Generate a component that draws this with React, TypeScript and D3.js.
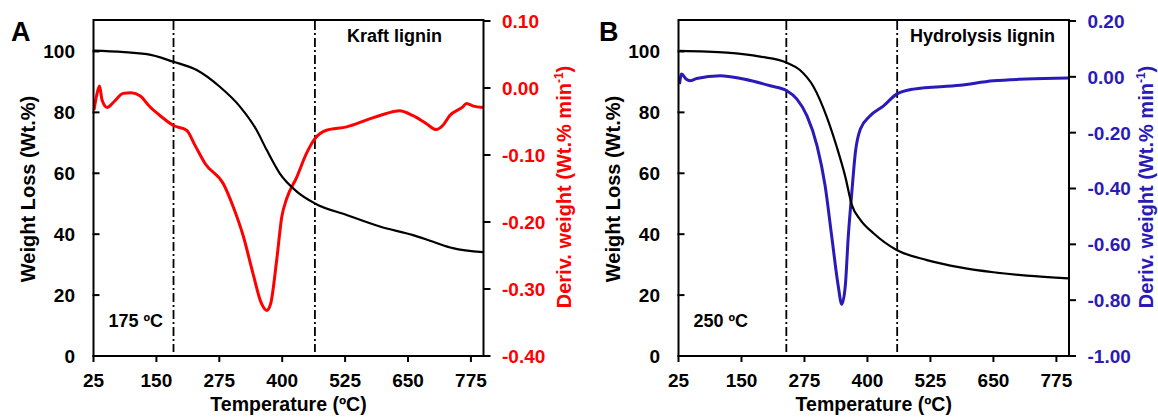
import React from "react";
import * as d3 from "d3";

// ---------- Data ----------
const xTicks = [25, 150, 275, 400, 525, 650, 775];
const leftTicks = [0, 20, 40, 60, 80, 100];
const rightTicksA = [0.1, 0.0, -0.1, -0.2, -0.3, -0.4];
const rightTicksB = [0.2, 0.0, -0.2, -0.4, -0.6, -0.8, -1.0];

// Panel A – Kraft lignin, weight loss (TGA)
const tgaTempA = [25, 131, 184, 230, 276, 316, 349, 369, 395, 429, 465, 528, 594, 660, 700, 739, 799];
const tgaValA = [100.3, 99.1, 96.6, 93.9, 88.4, 81.9, 74.2, 67.7, 60.0, 54.0, 50.1, 46.3, 42.5, 39.7, 37.5, 35.4, 34.1];

// Panel A – Kraft lignin, derivative weight (DTG)
const dtgTempA = [26, 31, 37, 42, 52, 65, 84, 100, 118, 137, 157, 184, 210, 227, 247, 283, 303, 323, 342, 359, 369, 377, 389, 399, 409, 429, 448, 465, 488, 528, 567, 607, 633, 659, 686, 706, 719, 733, 759, 766, 780, 799];
const dtgValA = [-0.033, -0.012, 0.003, -0.018, -0.029, -0.021, -0.008, -0.007, -0.012, -0.028, -0.041, -0.056, -0.063, -0.086, -0.113, -0.143, -0.178, -0.222, -0.277, -0.322, -0.332, -0.322, -0.257, -0.193, -0.165, -0.133, -0.098, -0.0755, -0.063, -0.058, -0.048, -0.038, -0.034, -0.041, -0.053, -0.062, -0.056, -0.041, -0.028, -0.023, -0.027, -0.029];

// Panel B – Hydrolysis lignin, weight loss (TGA)
const tgaTempB = [27, 121, 187, 240, 266, 293, 319, 339, 356, 369, 386, 412, 458, 518, 584, 650, 716, 799];
const tgaValB = [100.2, 99.6, 98.3, 96.3, 93.9, 88.4, 78.6, 68.7, 58.9, 49.6, 44.7, 40.3, 34.8, 31.5, 29.1, 27.5, 26.4, 25.5];

// Panel B – Hydrolysis lignin, derivative weight (DTG)
const dtgTempB = [27, 31, 40, 48, 61, 108, 154, 207, 240, 260, 280, 300, 316, 329, 342, 349, 356, 362, 369, 376, 386, 405, 432, 458, 491, 584, 650, 716, 799];
const dtgValB = [-0.026, 0.01, -0.008, -0.014, -0.006, 0.004, -0.008, -0.032, -0.05, -0.08, -0.14, -0.247, -0.39, -0.57, -0.749, -0.815, -0.749, -0.57, -0.414, -0.271, -0.187, -0.14, -0.104, -0.062, -0.044, -0.03, -0.014, -0.008, -0.004];

// Vertical dash-dot markers (°C)
const markersA = [184, 465];
const markersB = [239, 459];

const FONT = "Arial, 'Liberation Sans', sans-serif";

type PanelProps = {
  x0: number;
  x1: number;
  letter: string;
  letterX: number;
  title: string;
  titleStart: number;
  tempLabel: string;
  tgaT: number[];
  tgaV: number[];
  dtgT: number[];
  dtgV: number[];
  rightDomain: [number, number];
  rightTicks: number[];
  markers: number[];
  color: string;
  titleX: number;
};

function fmt(v: number) {
  return d3.format(".2f")(v).replace("\u2212", "-");
}

function Panel(p: PanelProps) {
  const top = 21;
  const bottom = 356;
  const x = d3.scaleLinear().domain([25, 800]).range([p.x0, p.x1]);
  const yL = d3.scaleLinear().domain([0, 110]).range([bottom, top]);
  const yR = d3.scaleLinear().domain(p.rightDomain).range([bottom, top]);

  const tgaLine = d3
    .line<number>()
    .x((_, i) => x(p.tgaT[i]))
    .y((v) => yL(v))
    .curve(d3.curveMonotoneX);
  const dtgLine = d3
    .line<number>()
    .x((_, i) => x(p.dtgT[i]))
    .y((v) => yR(v))
    .curve(d3.curveMonotoneX);

  const cx = (p.x0 + p.x1) / 2;
  const cy = 189;

  return (
    <g fontFamily={FONT} fontWeight="bold">
      {/* markers */}
      {p.markers.map((m, i) => (
        <line
          key={"m" + i}
          x1={x(m)}
          x2={x(m)}
          y1={top}
          y2={bottom - 4}
          stroke="#000"
          strokeWidth={1.8}
          strokeDasharray="9,3,2,3"
        />
      ))}
      {/* curves */}
      <path d={dtgLine(p.dtgV) || ""} fill="none" stroke={p.color} strokeWidth={3} strokeLinejoin="round" />
      <path d={tgaLine(p.tgaV) || ""} fill="none" stroke="#000" strokeWidth={2.2} strokeLinejoin="round" />

      {/* frame */}
      <line x1={p.x0} x2={p.x1} y1={top - 1} y2={top - 1} stroke="#000" strokeWidth={2} />
      <line x1={p.x0} x2={p.x1} y1={bottom} y2={bottom} stroke="#000" strokeWidth={2} />
      <line x1={p.x0} x2={p.x0} y1={top - 2} y2={bottom + 1} stroke="#000" strokeWidth={2} />
      <line x1={p.x1} x2={p.x1} y1={top - 2} y2={bottom + 1} stroke="#000" strokeWidth={2} />

      {/* x ticks */}
      {xTicks.map((t) => (
        <g key={"x" + t}>
          <line x1={x(t)} x2={x(t)} y1={bottom} y2={bottom + 6} stroke="#000" strokeWidth={2} />
          <text x={x(t)} y={387} textAnchor="middle" fontSize={19} fill="#000">
            {t}
          </text>
        </g>
      ))}
      {/* left ticks */}
      {leftTicks.map((t) => (
        <g key={"l" + t}>
          <line x1={p.x0 - 1} x2={p.x0 + 6} y1={yL(t)} y2={yL(t)} stroke="#000" strokeWidth={2} />
          <text x={p.x0 - 18.5} y={yL(t)} dy="0.36em" textAnchor="end" fontSize={19} fill="#000">
            {t}
          </text>
        </g>
      ))}
      {/* right ticks */}
      {p.rightTicks.map((t) => (
        <g key={"r" + t}>
          <line x1={p.x1} x2={p.x1 + 7} y1={yR(t)} y2={yR(t)} stroke="#000" strokeWidth={2} />
          <text x={p.x1 + 18.5} y={yR(t)} dy="0.36em" textAnchor="start" fontSize={19} fill={p.color}>
            {fmt(t)}
          </text>
        </g>
      ))}

      {/* axis titles */}
      <text x={cx} y={411} textAnchor="middle" fontSize={19.5} fill="#000">
        Temperature (ºC)
      </text>
      <text transform={`translate(${p.x0 - 59},${cy}) rotate(-90)`} textAnchor="middle" fontSize={20} fill="#000">
        Weight Loss (Wt.%)
      </text>
      <text transform={`translate(${p.titleX},${cy - 2}) rotate(-90)`} textAnchor="middle" fontSize={20} fill={p.color}>
        Deriv. weight (Wt.% min
        <tspan fontSize={12} dy={-8}>
          -1
        </tspan>
        <tspan dy={8}>)</tspan>
      </text>

      {/* annotations */}
      <text x={p.letterX} y={41} fontSize={27} fill="#000">
        {p.letter}
      </text>
      <text x={p.titleStart} y={42} fontSize={18} fill="#000">
        {p.title}
      </text>
      <text x={p.x0 + 15} y={327} fontSize={18} fill="#000">
        {p.tempLabel}
      </text>
    </g>
  );
}

export default function App() {
  return (
    <svg
      width={1158}
      height={418}
      viewBox="0 0 1158 418"
      style={{ position: "absolute", left: 0, top: 0, background: "#fff" }}
    >
      <rect width={1158} height={418} fill="#fff" />
      <Panel
        x0={93.5}
        x1={483.5}
        letter="A"
        letterX={11}
        title="Kraft lignin"
        titleStart={347}
        tempLabel="175 ºC"
        tgaT={tgaTempA}
        tgaV={tgaValA}
        dtgT={dtgTempA}
        dtgV={dtgValA}
        rightDomain={[-0.4, 0.1]}
        rightTicks={rightTicksA}
        markers={markersA}
        color="#ff0000"
        titleX={571}
      />
      <Panel
        x0={678.5}
        x1={1069}
        letter="B"
        letterX={599}
        title="Hydrolysis lignin"
        titleStart={910}
        tempLabel="250 ºC"
        tgaT={tgaTempB}
        tgaV={tgaValB}
        dtgT={dtgTempB}
        dtgV={dtgValB}
        rightDomain={[-1, 0.2]}
        rightTicks={rightTicksB}
        markers={markersB}
        color="#2a1ab8"
        titleX={1153}
      />
    </svg>
  );
}
